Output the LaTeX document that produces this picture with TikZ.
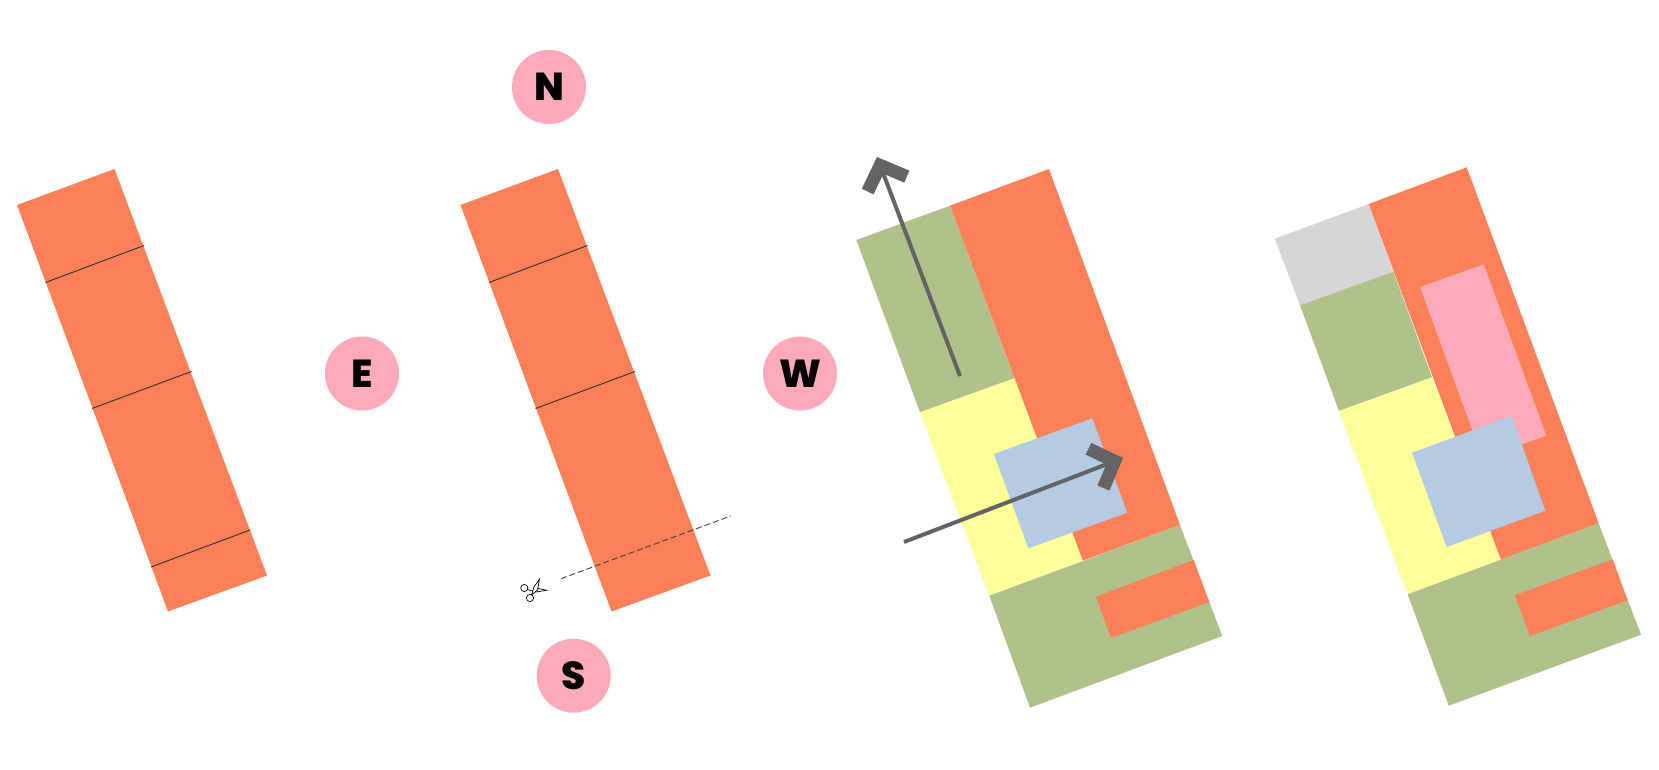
\documentclass[tikz,border=0pt]{standalone}
\usepackage{fontspec}
\newfontfamily\dirfont{Poppins ExtraBold}
\usetikzlibrary{arrows.meta}
\definecolor{plotorange}{HTML}{FA8058}
\definecolor{plotgreen}{HTML}{B0C18A}
\definecolor{plotyellow}{HTML}{FEFF99}
\definecolor{plotblue}{HTML}{B4CBE3}
\definecolor{plotpink}{HTML}{FCAABA}
\definecolor{plotgrey}{HTML}{D6D6D6}
\definecolor{arrowgrey}{HTML}{646464}
\tikzset{
  dirdot/.style={circle, fill=plotpink, minimum size=74pt, inner sep=0pt, font=\dirfont\fontsize{39}{39}\selectfont},
  walkarrow/.style={draw=arrowgrey, line width=4pt, -{Straight Barb[length=20pt, width=42pt, line width=13pt, sharp]}},
  splitline/.style={line width=0.9pt, draw=black!80},
  cutline/.style={line width=0.9pt, draw=black!75, dash pattern=on 6pt off 3pt},
  snips/.style={line width=0.7pt, draw=black, fill=white}
}
\begin{document}
\begin{tikzpicture}[x=1pt, y=-1pt]
\useasboundingbox (0,0) rectangle (1659,770);
\foreach \dx in {0,443.5}{
  \fill[plotorange] (17+\dx,205) -- (114.5+\dx,169) -- (267+\dx,575.5) -- (168+\dx,611.5) -- cycle;
  \draw[splitline] (45.5+\dx,282.5) -- (144+\dx,245.5);
  \draw[splitline] (92+\dx,408.5) -- (191.5+\dx,371.5);
}
\draw[splitline] (151,567) -- (250,530);
\foreach \nm/\x/\y in {N/549/87, E/362/373.5, W/800/373.5, S/573.7/675.7}{
  \node[dirdot] (dir\nm) at (\x,\y) {\nm};
}
\draw[cutline] (561,578.7) -- (730.7,516);
\draw[snips] (527,589.5) -- (536,592) -- (546.7,590.3) -- (536,588) -- (533,590.5);
\draw[snips] (531.5,595) -- (534,587) -- (539.5,579) -- (537.5,590) -- cycle;
\draw[snips] (524.3,588) circle (3.6);
\draw[snips] (530,598) circle (3.6);

\fill[plotgreen] (856.3,240) -- (950,205.7) -- (1014.3,378.3) -- (920,412.3) -- cycle;
\fill[plotorange] (950,205.7) -- (1049,169) -- (1180,525) -- (1082.7,560.7) -- cycle;
\fill[plotyellow] (920,412.3) -- (1014.3,378.3) -- (1082.7,560.7) -- (989.3,595.7) -- cycle;
\fill[plotgreen] (989.3,595.7) -- (1180,525) -- (1222.3,636) -- (1030,707.7) -- cycle;
\fill[plotorange] (1096,596.7) -- (1193.7,560) -- (1209.3,602) -- (1111,638) -- cycle;
\fill[plotblue] (994,454) -- (1092.3,418.3) -- (1127.3,512.7) -- (1028.3,548.3) -- cycle;
\coordinate (northfrom) at (960,376);
\coordinate (northto) at (877,157);
\coordinate (eastfrom) at (904,542);
\coordinate (eastto) at (1123,458);
\draw[walkarrow] (northfrom) -- (northto);
\draw[walkarrow] (eastfrom) -- (eastto);

\fill[plotgrey] (1274.7,238.7) -- (1368.7,204) -- (1393.3,271.7) -- (1300,305.3) -- cycle;
\fill[plotgreen] (1300,305.3) -- (1393.3,271.7) -- (1432,377.3) -- (1339,411) -- cycle;
\fill[plotorange] (1368.7,204) -- (1466.7,167.3) -- (1598.7,523.3) -- (1500.7,559.7) -- cycle;
\fill[plotyellow] (1339,411) -- (1432,377.3) -- (1500.7,559.7) -- (1407.7,594.3) -- cycle;
\fill[plotgreen] (1407.7,594.3) -- (1598.7,523.3) -- (1641,634.7) -- (1448.7,705.7) -- cycle;
\fill[plotorange] (1514.7,595.3) -- (1612.7,559.3) -- (1627.3,600.3) -- (1530,636) -- cycle;
\fill[plotpink] (1420,287) -- (1483.7,264.3) -- (1546.3,435.7) -- (1482.6,458.4) -- cycle;
\fill[plotblue] (1412,452.7) -- (1511.7,416) -- (1545.3,510.7) -- (1446.7,547) -- cycle;
\end{tikzpicture}
\end{document}
